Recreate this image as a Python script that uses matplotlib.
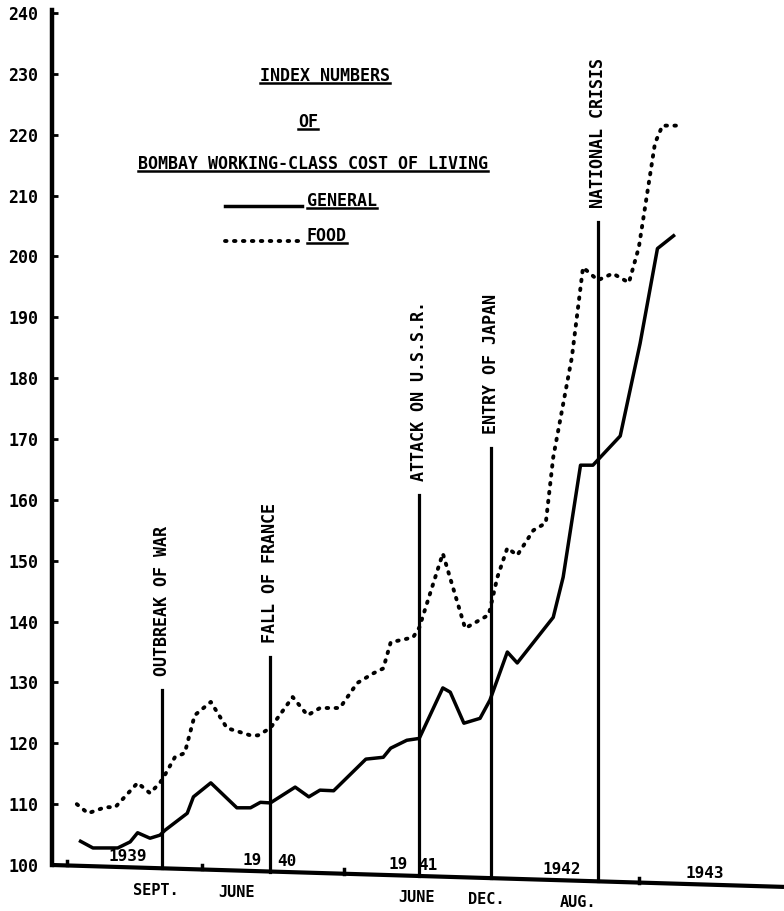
import matplotlib
matplotlib.use('Agg')
import matplotlib.pyplot as plt
from matplotlib.lines import Line2D

plt.rcParams['font.family'] = ['DejaVu Sans Mono']
plt.rcParams['font.weight'] = 'bold'

# months counted from Jan 1939, index values
gen_month = [1.4, 2.4, 4.4, 5.4, 6.0, 7.0, 7.8, 8.2, 10.0, 10.5, 11.9, 14.0, 15.1,
             15.9, 16.7, 18.7, 19.8, 20.7, 21.8, 24.4, 25.8, 26.4, 27.7, 28.7, 30.6,
             31.2, 32.3, 33.6, 34.4, 35.8, 36.6, 39.5, 40.3, 41.7, 42.7, 44.9, 46.5,
             47.9, 49.2]
gen_index = [103.9, 102.8, 102.8, 103.8, 105.3, 104.4, 104.9, 105.7, 108.5, 111.2,
             113.5, 109.4, 109.4, 110.3, 110.2, 112.8, 111.2, 112.3, 112.2, 117.4,
             117.7, 119.2, 120.5, 120.8, 129.1, 128.4, 123.3, 124.1, 127.1, 135.0,
             133.2, 140.7, 147.3, 165.7, 165.7, 170.5, 185.7, 201.3, 203.4]

food_month = [1.1, 2.0, 3.4, 4.2, 6.0, 7.0, 7.8, 8.2, 9.0, 9.8, 10.6, 11.9, 13.2,
              15.1, 15.7, 16.7, 18.5, 19.7, 20.7, 22.3, 23.7, 25.0, 25.8, 26.4, 28.2,
              28.7, 30.6, 32.4, 34.3, 35.0, 35.8, 36.6, 37.9, 38.9, 39.5, 41.0, 41.9,
              43.1, 44.3, 45.6, 46.4, 47.7, 48.3, 49.4]
food_index = [110.0, 108.5, 109.5, 109.5, 113.5, 111.8, 113.5, 114.8, 117.7, 118.4,
              124.6, 126.8, 122.5, 121.3, 121.3, 122.5, 127.6, 124.6, 125.8, 125.8,
              129.9, 131.5, 132.3, 136.6, 137.4, 139.0, 151.2, 138.9, 141.1, 147.3,
              152.1, 150.9, 155.0, 156.2, 167.0, 183.4, 198.2, 196.1, 197.2, 195.7,
              201.5, 218.6, 221.5, 221.5]

event_month = [8.0, 16.7, 28.7, 34.5, 43.1]
event_top = [128.7, 134.2, 160.8, 168.5, 205.6]
event_label = ['OUTBREAK OF WAR', 'FALL OF FRANCE', 'ATTACK ON U.S.S.R.',
               'ENTRY OF JAPAN', 'NATIONAL CRISIS']

year_month = [5.2, 15.2, 18.0, 27.0, 29.4, 40.2, 51.7]
year_label = ['1939', '19', '40', '19', '41', '1942', '1943']
month_month = [7.5, 14.0, 28.5, 34.1, 41.5]
month_label = ['SEPT.', 'JUNE', 'JUNE', 'DEC.', 'AUG.']
year_tick_month = [0.3, 11.2, 22.6, 46.4]
yticks = list(range(100, 241, 10))

xmin, xmax = -0.9, 58.1
drop = 3.6  # the hand-drawn base line sags to the right
dots = (0, (0.4, 1.9))


def base(m):
    return 100 - drop * (m - xmin) / (xmax - xmin)


fig = plt.figure(figsize=(7.84, 9.11), dpi=100)
ax = fig.add_axes([52/784, 46/911, 732/784, 855/911])
ax.set_xlim(xmin, xmax)
ax.set_ylim(100, 240.5)

for s in ['top', 'right', 'bottom']:
    ax.spines[s].set_visible(False)
ax.spines['left'].set_linewidth(3.2)
ax.set_xticks([])
ax.set_yticks(yticks)
ax.tick_params(axis='y', direction='in', length=4, width=2, pad=10, labelsize=12)

# base line
ax.plot([xmin, xmax], [base(xmin), base(xmax)], color='black', lw=3,
        clip_on=False, solid_capstyle='butt')
for m in year_tick_month:
    ax.plot([m, m], [base(m), base(m) + 0.8], color='black', lw=2.5, clip_on=False)

ax.plot(gen_month, gen_index, color='black', lw=2.5)
ax.plot(food_month, food_index, color='black', lw=2.8, linestyle=dots,
        dash_capstyle='round')

for m, top, lab in zip(event_month, event_top, event_label):
    ax.plot([m, m], [base(m), top], color='black', lw=2.3, clip_on=False)
    ax.text(m, top + 2.3, lab, rotation=90, ha='center', va='bottom', fontsize=12)

for m, lab in zip(year_month, year_label):
    ax.text(m, base(m) + 1.8, lab, ha='center', va='center', fontsize=11.5)
for m, lab in zip(month_month, month_label):
    ax.text(m, base(m) - 3.6, lab, ha='center', va='center', fontsize=11,
            clip_on=False)

# title block, typed and underlined
W, H = 784, 911
title_items = [
    ('INDEX NUMBERS', 325, 76, 'center'),
    ('OF', 308, 122, 'center'),
    ('BOMBAY WORKING-CLASS COST OF LIVING', 313, 164, 'center'),
    ('GENERAL', 307, 201, 'left'),
    ('FOOD', 307, 236, 'left'),
]
texts = []
for s, x, y, ha in title_items:
    texts.append(fig.text(x / W, 1 - y / H, s, ha=ha, va='center', fontsize=12))

fig.add_artist(Line2D([225 / W, 302 / W], [1 - 206 / H, 1 - 206 / H],
                      color='black', lw=2.5, transform=fig.transFigure))
fig.add_artist(Line2D([225 / W, 302 / W], [1 - 241 / H, 1 - 241 / H],
                      color='black', lw=2.8, linestyle=dots,
                      dash_capstyle='round', transform=fig.transFigure))

fig.canvas.draw()
r = fig.canvas.get_renderer()
inv = fig.transFigure.inverted()
for t in texts:
    bb = t.get_window_extent(r)
    (x0, y0), (x1, _) = inv.transform([(bb.x0, bb.y0 + 2), (bb.x1, bb.y0 + 2)])
    fig.add_artist(Line2D([x0, x1], [y0, y0], color='black', lw=1.8,
                          transform=fig.transFigure))

fig.savefig('out.png', dpi=100)
